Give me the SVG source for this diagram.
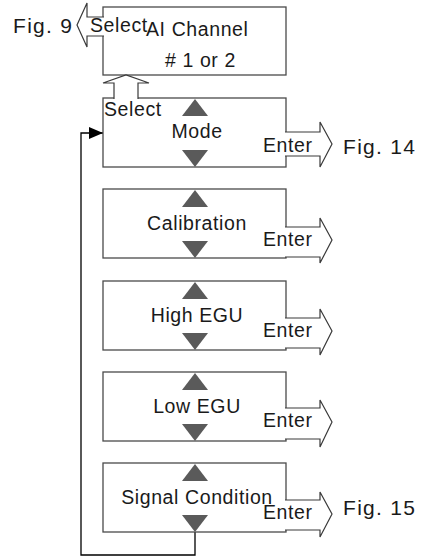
<svg xmlns="http://www.w3.org/2000/svg" width="424" height="559" viewBox="0 0 424 559">
  <style>
    .box { fill: #ffffff; stroke: #4a4a4a; stroke-width: 1.3; }
    .blk { fill: #ffffff; stroke: #3a3a3a; stroke-width: 1.2; stroke-linejoin: miter; }
    .tri { fill: #5a5a5a; }
    .lbl { font-family: "Liberation Sans", Arial, sans-serif; font-size: 19.5px; letter-spacing: 0.6px; fill: #1a1a1a; }
    .mid { text-anchor: middle; }
    .fig { font-family: "Liberation Sans", Arial, sans-serif; font-size: 21px; letter-spacing: 1.3px; fill: #1a1a1a; }
    .wire { fill: none; stroke: #000000; stroke-width: 1.3; }
  </style>
  <defs>
    <marker id="head" markerWidth="14" markerHeight="12" refX="14" refY="6" orient="auto" markerUnits="userSpaceOnUse">
      <path d="M0,0 L14,6 L0,12 Z" fill="#000000"/>
    </marker>
    <!-- scroll triangles: up at a box top, down at a box bottom -->
    <path id="up" class="tri" d="M182,17 L195,0 L208,17 Z"/>
    <path id="down" class="tri" d="M182,-17 L208,-17 L195,0 Z"/>
  </defs>

  <!-- loop back from the last menu to the first -->
  <g id="connectors">
    <path class="wire" d="M195,532 V555 H81 V133 H103" marker-end="url(#head)"/>
  </g>

  <!-- AI channel selection -->
  <g id="channel">
    <rect class="box" x="103" y="7" width="183" height="68"/>
    <path class="blk" d="M104,17 H87 V3 L77,25 L87,47 V36 H104"/>
    <text class="lbl" x="90" y="32">Select</text>
    <text class="lbl" x="146" y="36">AI Channel</text>
    <text class="lbl" x="165" y="67"># 1 or 2</text>
    <text class="fig" x="13" y="33">Fig. 9</text>
  </g>

  <!-- Mode -->
  <g id="mode">
    <rect class="box" x="103" y="98" width="183" height="69"/>
    <path class="blk" d="M114,99 V83 H103 L126,75 L149,83 H138 V99"/>
    <use href="#up" transform="translate(0,99)"/>
    <use href="#down" transform="translate(0,167)"/>
    <text class="lbl" x="104" y="116">Select</text>
    <text class="lbl mid" x="197" y="138">Mode</text>
    <path class="blk" d="M285,132 H320 V122 L332,144 L320,167 V156 H285"/>
    <text class="lbl" x="263" y="152">Enter</text>
    <text class="fig" x="343" y="154">Fig. 14</text>
  </g>

  <!-- Calibration -->
  <g id="calibration">
    <rect class="box" x="103" y="189" width="183" height="69"/>
    <use href="#up" transform="translate(0,190)"/>
    <use href="#down" transform="translate(0,258)"/>
    <text class="lbl mid" x="197" y="230">Calibration</text>
    <path class="blk" d="M285,227 H320 V218 L332,240 L320,263 V257 H285"/>
    <text class="lbl" x="263" y="246">Enter</text>
  </g>

  <!-- High EGU -->
  <g id="high-egu">
    <rect class="box" x="103" y="281" width="183" height="69"/>
    <use href="#up" transform="translate(0,282)"/>
    <use href="#down" transform="translate(0,350)"/>
    <text class="lbl mid" x="197" y="322">High EGU</text>
    <path class="blk" d="M285,318 H320 V309 L332,331 L320,355 V348 H285"/>
    <text class="lbl" x="263" y="337">Enter</text>
  </g>

  <!-- Low EGU -->
  <g id="low-egu">
    <rect class="box" x="103" y="372" width="183" height="69"/>
    <use href="#up" transform="translate(0,373)"/>
    <use href="#down" transform="translate(0,441)"/>
    <text class="lbl mid" x="197" y="413">Low EGU</text>
    <path class="blk" d="M285,408 H320 V400 L332,422 L320,447 V439 H285"/>
    <text class="lbl" x="263" y="427">Enter</text>
  </g>

  <!-- Signal Condition -->
  <g id="signal-condition">
    <rect class="box" x="103" y="463" width="183" height="69"/>
    <use href="#up" transform="translate(0,464)"/>
    <use href="#down" transform="translate(0,532)"/>
    <text class="lbl mid" x="197" y="504">Signal Condition</text>
    <path class="blk" d="M285,500 H320 V492 L332,514 L320,537 V530 H285"/>
    <text class="lbl" x="263" y="519">Enter</text>
    <text class="fig" x="343" y="515">Fig. 15</text>
  </g>
</svg>
